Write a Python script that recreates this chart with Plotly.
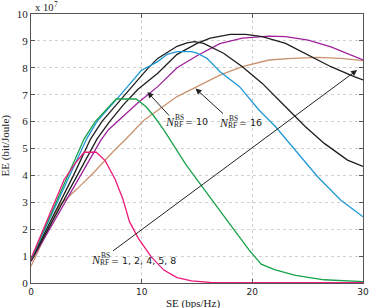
import plotly.graph_objects as go

# ---- data (EE in units of 1e7 bit/Joule vs SE in bps/Hz) ----
se_n1 = [0, 1.9, 3.0, 4.0, 4.8, 5.9, 6.7, 7.6, 8.3, 8.9, 9.7, 10.85, 12.0, 13.2, 14.5, 16.2, 20, 25, 30]
ee_n1 = [0.9, 2.73, 3.85, 4.45, 4.86, 4.86, 4.55, 3.86, 3.12, 2.28, 1.66, 0.98, 0.48, 0.2, 0.08, 0.02, 0.01, 0.01, 0.01]

se_n2 = [0, 2.0, 3.3, 4.8, 5.8, 6.8, 7.7, 9.5, 10.4, 11.15, 12.0, 14.0, 16.2, 17.7, 19.7, 20.8, 22.0, 23.9, 26.5, 30]
ee_n2 = [0.88, 2.75, 4.0, 5.36, 6.0, 6.45, 6.84, 6.84, 6.55, 6.18, 5.69, 4.4, 3.2, 2.34, 1.23, 0.7, 0.5, 0.28, 0.12, 0.05]

se_n4 = [0, 2.07, 3.46, 5.03, 5.95, 6.83, 8.2, 9.96, 11.45, 12.3, 13.2, 14.5, 15.0, 15.9, 17.06, 18.84, 20.6, 22.1, 23.9, 25.9, 28.0, 30]
ee_n4 = [0.88, 2.73, 4.0, 5.36, 6.0, 6.4, 7.05, 7.9, 8.23, 8.5, 8.6, 8.6, 8.55, 8.35, 7.86, 7.3, 6.43, 5.81, 4.94, 3.95, 3.08, 2.46]

se_n5 = [0, 2.28, 3.84, 5.39, 6.4, 8.5, 9.67, 10.5, 11.45, 12.6, 13.2, 14.1, 14.8, 15.6, 17.4, 19.1, 20.9, 23.0, 24.8, 26.5, 28.6, 30]
ee_n5 = [0.85, 2.73, 4.0, 5.36, 6.0, 7.0, 7.55, 7.95, 8.35, 8.65, 8.8, 8.93, 8.97, 8.91, 8.54, 8.04, 7.42, 6.55, 5.81, 5.19, 4.57, 4.33]

se_n8 = [0, 2.48, 4.14, 5.97, 7.1, 8.4, 9.67, 11.45, 13.2, 15.0, 16.2, 18.0, 19.4, 20.9, 23.0, 25.05, 27.1, 29.2, 30]
ee_n8 = [0.83, 2.73, 4.0, 5.36, 6.0, 6.65, 7.2, 7.8, 8.5, 8.91, 9.1, 9.24, 9.24, 9.16, 8.91, 8.48, 8.04, 7.67, 7.55]

se_n10 = [0, 2.7, 4.5, 6.3, 7.0, 8.2, 9.67, 11.45, 13.2, 15.0, 17.06, 19.1, 21.5, 23.0, 25.05, 27.1, 30]
ee_n10 = [0.8, 2.73, 4.0, 5.3, 5.7, 6.15, 6.7, 7.3, 8.0, 8.45, 8.9, 9.1, 9.18, 9.16, 9.03, 8.78, 8.29]

se_n16 = [0, 1.0, 1.95, 2.6, 4.17, 5.65, 7.45, 8.6, 10.2, 11.45, 13.2, 15.0, 17.06, 19.1, 21.5, 23.6, 25.9, 28.0, 30]
ee_n16 = [0.62, 1.5, 2.37, 2.9, 3.5, 4.1, 4.9, 5.36, 6.05, 6.43, 6.93, 7.3, 7.73, 8.04, 8.29, 8.35, 8.39, 8.35, 8.27]

series = [
    ("N=16", se_n16, ee_n16, "#C9936F"),
    ("N=10", se_n10, ee_n10, "#A0219C"),
    ("N=8", se_n8, ee_n8, "#1E1E1E"),
    ("N=5", se_n5, ee_n5, "#1E1E1E"),
    ("N=4", se_n4, ee_n4, "#1F98D5"),
    ("N=2", se_n2, ee_n2, "#17A24A"),
    ("N=1", se_n1, ee_n1, "#EC1A7B"),
]

x_ticks = [0, 10, 20, 30]
y_ticks = list(range(0, 11))

W, H = 373, 308
L, R, T, B = 31, 369, 14, 283

fig = go.Figure()
for name, xs, ys, col in series:
    fig.add_trace(go.Scatter(x=xs, y=ys, mode="lines", name=name,
                             line=dict(color=col, width=1.3), showlegend=False))

def px(xp):
    return (xp - L) / (R - L)

def py(yp):
    return (B - yp) / (B - T)

serif = "Liberation Serif"
sans = "DejaVu Sans"
ann = []

def label(nx, ny, text, nsize=12):
    # N with stacked BS / RF, then text
    ann.append(dict(x=px(nx), y=py(ny), xref="paper", yref="paper", text="<i>N</i>",
                    showarrow=False, font=dict(family=serif, size=nsize, color="#222"),
                    xanchor="left", yanchor="middle"))
    ann.append(dict(x=px(nx + 10.5), y=py(ny - 5), xref="paper", yref="paper", text="BS",
                    showarrow=False, font=dict(family=serif, size=7.5, color="#222"),
                    xanchor="left", yanchor="middle"))
    ann.append(dict(x=px(nx + 9.5), y=py(ny + 2.5), xref="paper", yref="paper", text="RF",
                    showarrow=False, font=dict(family=serif, size=7.5, color="#222"),
                    xanchor="left", yanchor="middle"))
    ann.append(dict(x=px(nx + 20.5), y=py(ny), xref="paper", yref="paper", text=text,
                    showarrow=False, font=dict(family=sans, size=9.5, color="#222"),
                    xanchor="left", yanchor="middle"))

label(90, 260, "= 1, 2, 4, 5, 8")
label(165, 122, "= 10")
label(220, 123, "= 16")

def arrow(tx, ty, hx, hy):
    ann.append(dict(x=px(hx), y=py(hy), ax=px(tx), ay=py(ty), xref="x domain", yref="y domain",
                    axref="x domain", ayref="y domain", text="", showarrow=True,
                    arrowhead=2, arrowsize=1.2, arrowwidth=1, arrowcolor="#222"))

arrow(113, 252, 363, 70)
arrow(173, 117, 149.5, 92)
arrow(228, 115, 198.5, 88.5)

# axis titles and exponent
ann.append(dict(x=px(196), y=py(303), xref="paper", yref="paper", text="SE (bps/Hz)",
                showarrow=False, font=dict(family=serif, size=11, color="#222"),
                xanchor="center", yanchor="middle"))
ann.append(dict(x=px(5), y=py(145), xref="paper", yref="paper", text="EE (bit/Joule)",
                textangle=-90, showarrow=False, font=dict(family=serif, size=11, color="#222"),
                xanchor="center", yanchor="middle"))
ann.append(dict(x=px(33), y=py(7.5), xref="paper", yref="paper", text="x 10",
                showarrow=False, font=dict(family=serif, size=10.5, color="#222"),
                xanchor="left", yanchor="middle"))
ann.append(dict(x=px(52), y=py(4.5), xref="paper", yref="paper", text="7",
                showarrow=False, font=dict(family=serif, size=7.5, color="#222"),
                xanchor="left", yanchor="middle"))

fig.update_layout(
    width=W, height=H,
    margin=dict(l=L, r=W - R, t=T, b=H - B, pad=0),
    paper_bgcolor="white", plot_bgcolor="white",
    annotations=ann,
    xaxis=dict(range=[0, 30], tickvals=x_ticks, ticktext=[str(v) for v in x_ticks],
               showgrid=True, gridcolor="#D0D0D0", griddash="dot", gridwidth=1,
               zeroline=False, showline=True, linecolor="#555", linewidth=1, mirror="allticks",
               ticks="inside", ticklen=4, tickcolor="#555", ticklabeloverflow="allow",
               tickfont=dict(family=sans, size=9, color="#222")),
    yaxis=dict(range=[0, 10], tickvals=y_ticks, ticktext=[str(v) for v in y_ticks],
               showgrid=True, gridcolor="#D0D0D0", griddash="dot", gridwidth=1,
               zeroline=False, showline=True, linecolor="#555", linewidth=1, mirror="allticks",
               ticks="inside", ticklen=4, tickcolor="#555",
               tickfont=dict(family=serif, size=11, color="#222")),
)

fig.write_html("out.html", config={"displayModeBar": False},
               post_script="document.body.style.margin='0px';")
